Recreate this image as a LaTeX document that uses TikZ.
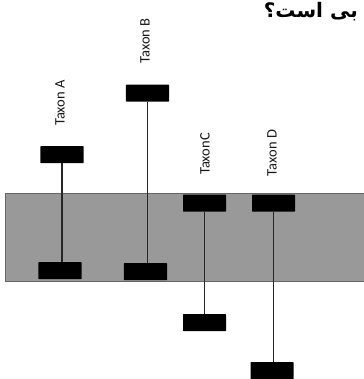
\documentclass[tikz,border=0pt]{standalone}
\usepackage{fontspec}
\setmainfont{Carlito}
\newfontfamily\arabicfont[Script=Arabic]{DejaVu Sans}
\TeXXeTstate=1
\begin{document}
\begin{tikzpicture}[x=1bp,y=-1bp,
  taxbox/.style={fill=black,draw=none,minimum width=43bp,minimum height=17bp,inner sep=0pt,rounded corners=0.5bp},
  taxlabel/.style={rotate=90,font=\fontsize{14.5bp}{15bp}\selectfont,text=black!90,inner sep=0pt},
  stem/.style={draw=black!85,line width=1.6bp}]
\useasboundingbox (0,0) rectangle (364,379);
\fill[white] (0,0) rectangle (364,379);
\node[draw=black!60,fill=black!40,line width=0.8bp,minimum width=366bp,minimum height=88bp,anchor=north west,inner sep=0pt] (band) at (5,193) {};
% boxes
\node[taxbox] (a1) at (62,154.5) {};
\node[taxbox] (a2) at (60,270.5) {};
\node[taxbox] (b1) at (147.5,93) {};
\node[taxbox] (b2) at (145.5,271.5) {};
\node[taxbox] (c1) at (204.5,203) {};
\node[taxbox] (c2) at (204.5,322.5) {};
\node[taxbox] (d1) at (273.5,203) {};
\node[taxbox] (d2) at (272,370.5) {};
% stems
\draw[stem] (a1.south) -- (a1.south |- a2.north);
\draw[stem] (b1.south) -- (b1.south |- b2.north);
\draw[stem] (c1.south) -- (c2.north);
\draw[stem] (d1.south) -- (d1.south |- d2.north);
% labels
\node[taxlabel] (la) at (60,103) {Taxon A};
\node[taxlabel] (lb) at (145,41) {Taxon B};
\node[taxlabel] (lc) at (205,154) {TaxonC};
\node[taxlabel] (ld) at (272,153) {Taxon D};
% cropped question text
\node[anchor=north east,inner sep=0pt,font=\arabicfont\bfseries\fontsize{20bp}{21bp}\selectfont] (q) at (358,2) {\beginR بی است؟\endR};
\end{tikzpicture}
\end{document}
